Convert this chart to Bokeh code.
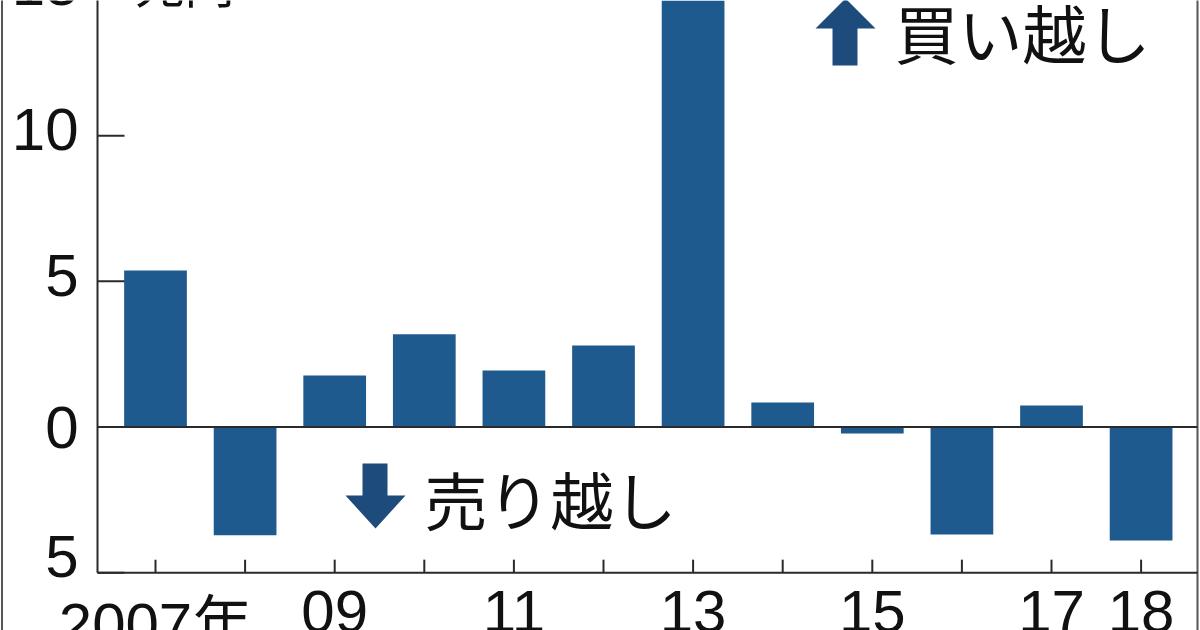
from bokeh.plotting import figure
from bokeh.models import Range1d, ColumnDataSource
from bokeh.core.properties import value
from bokeh.embed import file_html
from bokeh.resources import INLINE

# ---- data (trillion yen, net buying by foreign investors) ----
years = ["2007", "2008", "2009", "2010", "2011", "2012",
         "2013", "2014", "2015", "2016", "2017", "2018"]
net_buy = [5.37, -3.72, 1.77, 3.18, 1.94, 2.80, 15.1, 0.84, -0.22, -3.69, 0.74, -3.90]
y_ticks = [15, 10, 5, 0, -5]
y_tick_labels = ["15", "10", "5", "0", "5"]
x_tick_idx = [0, 2, 4, 6, 8, 10, 11]
x_tick_labels = ["2007年", "09", "11", "13", "15", "17", "18"]
unit_label = "兆円"
buy_label = "買い越し"
sell_label = "売り越し"

# ---- layout helpers (picture pixel -> data) ----
W, H = 1200, 630
OX, OY = 0, 0
PX_X0, PX_PER_X = 155.0, 89.6
PX_Y0, PX_PER_Y = 426.5, 29.13


def dx(px):
    return (px - PX_X0) / PX_PER_X


def dy(py):
    return (PX_Y0 - py) / PX_PER_Y


BAR = "#1f5a8e"
ARROW = "#1d4b7b"
INK = "#111111"
AXIS = "#2a2a2a"
NUM_FONT = value("Liberation Sans")

p = figure(width=W, height=H,
           x_range=Range1d(dx(OX), dx(OX + W)),
           y_range=Range1d(dy(OY + H), dy(OY)),
           x_axis_type=None, y_axis_type=None,
           toolbar_location=None, output_backend="svg",
           min_border=0, min_border_left=0, min_border_right=0,
           min_border_top=0, min_border_bottom=0,
           outline_line_color=None,
           background_fill_color="white", border_fill_color="white")

idx = list(range(len(years)))
src = ColumnDataSource(dict(x=idx, top=net_buy, year=years))
p.vbar(x="x", top="top", bottom=0, width=0.70, source=src,
       fill_color=BAR, line_color=None)

y_top = dy(-20)
y_bot = dy(H + 20)
ax_x = dx(97)
# outer frame lines (left / right)
p.segment(x0=[dx(1.5), dx(1197)], y0=[y_bot, y_bot],
          x1=[dx(1.5), dx(1197)], y1=[y_top, y_top],
          line_color="#555555", line_width=2)
# axis lines and zero line
p.segment(x0=[ax_x, ax_x, ax_x], y0=[-5, -5, 0],
          x1=[ax_x, dx(1197), dx(1197)], y1=[y_top, -5, 0],
          line_color=AXIS, line_width=2)
# y ticks (inside)
p.segment(x0=[ax_x] * len(y_ticks), y0=y_ticks,
          x1=[dx(124)] * len(y_ticks), y1=y_ticks,
          line_color=AXIS, line_width=2)
# x ticks (inside, at bar centres)
tick_len = 13 / PX_PER_Y
p.segment(x0=idx, y0=[-5] * len(idx), x1=idx, y1=[-5 + tick_len] * len(idx),
          line_color=AXIS, line_width=2)

# y tick labels
ylab_nudge = [-6, -6, -6, 0, -16]
p.text(x=[dx(78)] * len(y_ticks), y=y_ticks, text=y_tick_labels,
       y_offset=ylab_nudge,
       text_align="right", text_baseline="middle",
       text_font=NUM_FONT, text_font_size="60px", text_color=INK)

# x tick labels
p.text(x=x_tick_idx, y=[-5] * len(x_tick_idx), text=x_tick_labels,
       text_align="center", text_baseline="top", y_offset=18,
       text_font=value("Liberation Sans, Noto Sans CJK JP"),
       text_font_size="60px", text_color=INK)

# unit label
p.text(x=[dx(134)], y=[dy(16)], text=[unit_label],
       text_align="left", text_baseline="bottom",
       text_font=value("Noto Sans CJK JP"), text_font_size="50px", text_color=INK)

# buy / sell annotations
p.text(x=[dx(894)], y=[dy(30)], text=[buy_label],
       text_align="left", text_baseline="middle",
       text_font=value("Noto Sans CJK JP"), text_font_size="64px", text_color=INK)
p.text(x=[dx(424)], y=[dy(497)], text=[sell_label],
       text_align="left", text_baseline="middle",
       text_font=value("Noto Sans CJK JP"), text_font_size="63px", text_color=INK)

# arrows (shapes defined in pixel offsets around an anchor)
up_shape = [(-30, 0), (0, -30), (30, 0), (12, 0), (12, 37), (-13, 37), (-13, 0)]
down_shape = [(-30, 0), (0, 33), (30, 0), (12, 0), (12, -32), (-13, -32), (-13, 0)]
up_anchor = (845, 28)
down_anchor = (375, 495)
p.patches(xs=[[dx(up_anchor[0] + a) for a, b in up_shape],
              [dx(down_anchor[0] + a) for a, b in down_shape]],
          ys=[[dy(up_anchor[1] + b) for a, b in up_shape],
              [dy(down_anchor[1] + b) for a, b in down_shape]],
          fill_color=ARROW, line_color=None)

open("out.html", "w").write(file_html(p, INLINE))
